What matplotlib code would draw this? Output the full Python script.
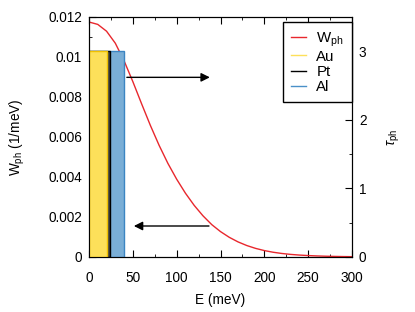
# Distribución de fonones W_ph y tiempos tau_ph

import numpy as np
import matplotlib
matplotlib.use("Agg")
import matplotlib.pyplot as plt
from matplotlib.ticker import MultipleLocator

plt.rcParams['font.family'] = ['Liberation Sans', 'DejaVu Sans']
plt.rcParams['mathtext.fontset'] = 'custom'
plt.rcParams['mathtext.rm'] = 'Liberation Sans'
plt.rcParams['mathtext.it'] = 'Liberation Sans:italic'
plt.rcParams['font.size'] = 9.8

# %% Datos
energia = [0, 10, 20, 30, 40, 50, 60, 70, 80, 90, 100, 110, 120, 130, 140, 150,
           160, 170, 180, 190, 200, 210, 220, 230, 240, 250, 260, 270, 280, 290, 300]
w_ph = [0.01175, 0.01163, 0.01129, 0.01069, 0.00981, 0.00877, 0.00766, 0.00658,
        0.00558, 0.00468, 0.00389, 0.00319, 0.00258, 0.00206, 0.00162, 0.00127,
        0.000984, 0.000755, 0.000573, 0.000431, 0.000321, 0.000238, 0.000176,
        0.000130, 0.0000967, 0.0000717, 0.000053, 0.000039, 0.000029, 0.0000215,
        0.000016]

metales = ['Al', 'Pt', 'Au']          # orden de dibujo
e_debye = [40, 24.5, 20]              # ancho de cada barra (meV)
tau_ph = [3.0, 3.0, 3.0]
relleno = ['#7aaed6', '#404040', '#fde05a']
borde = ['#3c85c2', '#000000', '#f0c000']

# %% Figura
fig = plt.figure(figsize=(4.15, 3.12), dpi=100)
ax = fig.add_axes([89 / 415, 55 / 312, 263 / 415, 240 / 312])
ax2 = ax.twinx()

ax.plot(energia, w_ph, color='#e8272d', lw=1.0, label=r'W$_{\mathrm{ph}}$')

for m, e, t, c, b in zip(metales, e_debye, tau_ph, relleno, borde):
    ax2.bar(0, t, width=e, align='edge', color=c, edgecolor=b, lw=1.0)

# entradas de leyenda en el orden de la figura
hs = [ax.lines[0]]
for c, m in [('#fde05a', 'Au'), ('#000000', 'Pt'), ('#4a90c8', 'Al')]:
    hs += ax.plot([], [], color=c, lw=1.0, label=m)
leg = ax2.legend(hs, [h.get_label() for h in hs], loc='upper right',
                 bbox_to_anchor=(1.0, 1 - 5 / 240), borderaxespad=0,
                 fancybox=False, edgecolor='black', framealpha=1,
                 handlelength=1.0, handletextpad=0.7, labelspacing=0.08,
                 borderpad=0.55, fontsize=10.8)
leg.get_frame().set_linewidth(1.0)

# flechas
ax2.annotate('', xy=(141, 2.62), xytext=(40, 2.62),
             arrowprops=dict(arrowstyle='-|>', color='black', lw=1.0, mutation_scale=13))
ax.annotate('', xy=(48, 0.00155), xytext=(140, 0.00155),
            arrowprops=dict(arrowstyle='-|>', color='black', lw=1.0, mutation_scale=13))

ax.set_xlim(0, 300)
ax.set_ylim(0, 0.012)
ax2.set_ylim(0, 3.5)
ax.xaxis.set_major_locator(MultipleLocator(50))
ax.xaxis.set_minor_locator(MultipleLocator(25))
ax.yaxis.set_minor_locator(MultipleLocator(0.001))
ax2.yaxis.set_major_locator(MultipleLocator(1))
ax2.yaxis.set_minor_locator(MultipleLocator(0.5))
ax.set_yticks(np.arange(0, 0.0121, 0.002))
ax.set_yticklabels(['0', '0.002', '0.004', '0.006', '0.008', '0.01', '0.012'])

ax.tick_params(which='both', direction='in', top=True, right=False, pad=5)
ax.tick_params(axis='x', which='both', pad=10)
ax.tick_params(which='major', length=5)
ax.tick_params(which='minor', length=2.5)
ax2.tick_params(which='both', direction='in', pad=5)
ax2.tick_params(which='major', length=5)
ax2.tick_params(which='minor', length=2.5)

ax.set_xlabel('E (meV)', labelpad=6)
ax.set_ylabel(r'W$_{\mathrm{ph}}$ (1/meV)', labelpad=15)
ax2.set_ylabel(r'$\tau_{\mathrm{ph}}$', labelpad=14)

fig.savefig('out.png', dpi=100)
